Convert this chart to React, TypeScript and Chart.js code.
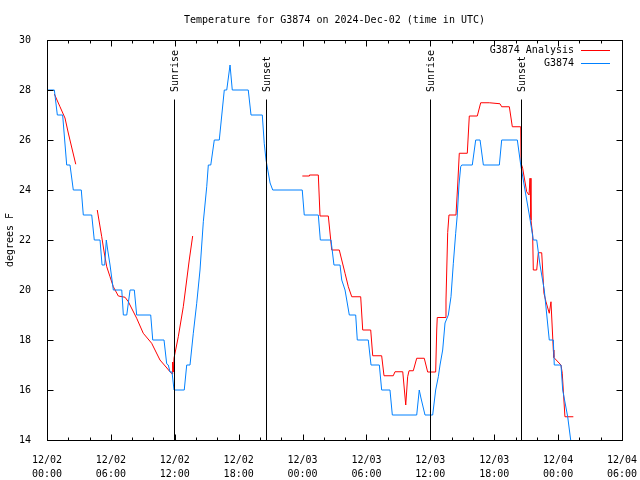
import React, { useEffect, useRef } from "react";
import { Chart, registerables } from "chart.js";

Chart.register(...registerables);

const FONT = "'DejaVu Sans Mono', 'Liberation Mono', monospace";

const chartTitle = "Temperature for G3874 on 2024-Dec-02 (time in UTC)";
const yAxisTitle = "degrees F";

// x ticks: hours since 12/02 00:00 UTC
const tickDates = ["12/02", "12/02", "12/02", "12/02", "12/03", "12/03", "12/03", "12/03", "12/04", "12/04"];
const tickTimes = ["00:00", "06:00", "12:00", "18:00", "00:00", "06:00", "12:00", "18:00", "00:00", "06:00"];

const eventHours = [11.93, 20.57, 35.97, 44.52];
const eventLabels = ["Sunrise", "Sunset", "Sunrise", "Sunset"];

const analysisLabel = "G3874 Analysis";
const stationLabel = "G3874";

const analysisHours = [
  0.69, 1.22, 1.69, 2.0, 2.38, 2.7, 3.5,
  4.72, 5.14, 5.38, 5.61, 5.92, 6.23, 6.7, 7.33, 7.64, 8.42, 9.04, 9.83, 10.61, 11.18, 11.55, 11.77, 11.8, 11.86,
  11.93, 12.33, 12.8, 13.12, 13.36, 13.68, 18,
  23.98, 24.63, 24.65, 25.48, 25.64, 26.42, 26.74, 27.45, 27.68, 27.99, 28.3, 28.62, 29.46, 29.65, 30.4, 30.59,
  31.43, 31.65, 32.52, 32.68, 33.41, 33.69, 33.87, 34.0, 34.4, 34.72, 35.43, 35.75, 36.5, 36.6, 36.65, 37.38,
  37.47, 37.63, 37.75, 38.41, 38.57, 38.72, 39.47, 39.66, 40.41, 40.73, 41.54, 42.54, 42.7, 43.42, 43.7, 44.49,
  44.52, 44.67, 45.05, 45.27, 45.36, 45.45, 45.61, 45.67, 45.99, 46.14, 46.46, 46.55, 46.67, 46.86, 47.17, 47.33,
  47.55, 47.6, 48.27, 48.39, 48.64, 49.43,
];
const analysisTemps = [
  27.84, 27.33, 26.88, 26.28, 25.6, 25.03, null,
  23.2, 22.13, 21.48, 20.93, 20.53, 20.13, 19.76, 19.71, 19.53, 18.87, 18.27, 17.87, 17.2, 16.92, 16.73, 16.64, 17.12, 16.72,
  17.28, 18.13, 19.33, 20.4, 21.2, 22.16, null,
  24.56, 24.56, 24.6, 24.6, 22.96, 22.96, 21.6, 21.6, 21.2, 20.67, 20.13, 19.73, 19.73, 18.4, 18.4, 17.37,
  17.37, 16.57, 16.57, 16.73, 16.73, 15.4, 16.53, 16.77, 16.77, 17.27, 17.27, 16.72, 16.72, 18.4, 18.9, 18.9,
  19.6, 22.3, 23.0, 23.0, 24.2, 25.47, 25.47, 26.96, 26.96, 27.49, 27.49, 27.45, 27.33, 27.33, 26.53, 26.53,
  25.07, 24.87, 23.93, 23.8, 24.47, 22.8, 22.2, 20.8, 20.8, 21.49, 21.49, 20.8, 19.87, 19.53, 19.07, 19.53,
  17.6, 17.3, 17.0, 16.67, 14.93, 14.93,
];

const stationHours = [
  0, 0.69, 0.97, 1.47, 1.85, 2.16, 2.47, 3.22, 3.41, 4.2, 4.44, 4.98, 5.17, 5.42, 5.57, 5.7, 5.92, 6.23, 7.02, 7.17,
  7.49, 7.8, 8.2, 8.42, 9.74, 9.93, 10.99, 11.24, 11.39, 11.55, 11.74, 11.93, 12.89, 13.12, 13.43, 13.74, 14.06,
  14.37, 14.68, 15.0, 15.15, 15.38, 15.71, 16.18, 16.65, 16.88, 17.19, 17.4, 18.9, 19.16, 20.22, 20.4, 20.57, 20.95,
  21.2, 23.97, 24.16, 25.48, 25.67, 26.67, 26.95, 27.52, 27.68, 27.99, 28.39, 28.99, 29.14, 30.17, 30.43, 31.21,
  31.43, 32.21, 32.43, 34.72, 34.96, 35.12, 35.5, 36.22, 36.5, 36.75, 36.91, 37.16, 37.38, 37.69, 37.94, 38.16,
  38.38, 38.53, 38.69, 38.85, 38.95, 39.94, 40.26, 40.67, 40.98, 42.48, 42.7, 44.17, 44.49, 44.89, 45.36, 45.67,
  45.99, 46.3, 46.7, 47.17, 47.55, 47.64, 48.27, 48.43, 48.9, 49.18,
];
const stationTemps = [
  28, 28, 27, 27, 25, 25, 24, 24, 23, 23, 22, 22, 21, 21, 22, 21.6, 21, 20, 20, 19,
  19, 20, 20, 19, 19, 18, 18, 17.05, 17.0, 16.72, 16.72, 16, 16, 17, 17, 18.27, 19.47,
  20.8, 22.73, 24.13, 25, 25, 26, 26, 28, 28, 29, 28, 28, 27, 27, 25.87, 25.2, 24.28,
  24, 24, 23, 23, 22, 22, 21, 21, 20.4, 20, 19, 19, 18, 18, 17, 17,
  16, 16, 15, 15, 16, 15.68, 15, 15, 16, 16.53, 17, 17.6, 18.68, 19, 19.73, 21.07,
  22.27, 23, 24.2, 24.93, 25, 25, 26, 26, 25, 25, 26, 26, 25, 24, 22.84, 22,
  22, 21, 20, 18, 18, 17, 17, 16, 14.93, 14,
];

const RED = "#ff0000";
const BLUE = "#0080ff";

const overlayPlugin = {
  id: "gnuplotOverlay",
  afterDatasetsDraw(chart: any) {
    const { ctx, chartArea: a, scales } = chart;
    const xs = scales.x;
    const ys = scales.y;
    const L = Math.round(a.left) + 0.5;
    const R = Math.round(a.right) + 0.5;
    const T = Math.round(a.top) + 0.5;
    const B = Math.round(a.bottom) + 0.5;
    ctx.save();
    ctx.strokeStyle = "#000";
    ctx.fillStyle = "#000";
    ctx.lineWidth = 1;
    ctx.font = `10px ${FONT}`;

    // sunrise / sunset markers
    eventHours.forEach((h, i) => {
      const px = Math.round(xs.getPixelForValue(h)) + 0.5;
      ctx.beginPath();
      ctx.moveTo(px, T + 59);
      ctx.lineTo(px, B);
      ctx.stroke();
      ctx.save();
      ctx.translate(px + 1, a.top + 52);
      ctx.rotate(-Math.PI / 2);
      ctx.textAlign = "left";
      ctx.textBaseline = "middle";
      ctx.fillText(eventLabels[i], 0, 0);
      ctx.restore();
    });

    // frame
    ctx.strokeRect(L, T, R - L, B - T);

    // x ticks (major every 6h, minor every 2h), inward, mirrored
    for (let v = xs.min; v <= xs.max; v += 2) {
      const px = Math.round(xs.getPixelForValue(v)) + 0.5;
      const len = v % 6 === 0 ? 6 : 3;
      ctx.beginPath();
      ctx.moveTo(px, B);
      ctx.lineTo(px, B - len);
      ctx.moveTo(px, T);
      ctx.lineTo(px, T + len);
      ctx.stroke();
    }
    // y ticks
    for (let v = ys.min; v <= ys.max; v += 2) {
      const py = Math.round(ys.getPixelForValue(v)) + 0.5;
      ctx.beginPath();
      ctx.moveTo(L, py);
      ctx.lineTo(L + 6, py);
      ctx.moveTo(R, py);
      ctx.lineTo(R - 6, py);
      ctx.stroke();
    }

    // legend (inside top-right)
    const items = [
      { label: analysisLabel, color: RED },
      { label: stationLabel, color: BLUE },
    ];
    items.forEach((it, i) => {
      const y = Math.round(a.top + 10 + i * 13);
      ctx.fillStyle = "#000";
      ctx.textAlign = "right";
      ctx.textBaseline = "middle";
      ctx.fillText(it.label, a.right - 48, y);
      ctx.strokeStyle = it.color;
      ctx.beginPath();
      ctx.moveTo(a.right - 41, y + 0.5);
      ctx.lineTo(a.right - 12, y + 0.5);
      ctx.stroke();
    });
    ctx.restore();
  },
};

export default function App() {
  const canvasRef = useRef<HTMLCanvasElement | null>(null);

  useEffect(() => {
    const canvas = canvasRef.current;
    if (!canvas) return;
    Chart.defaults.font.family = FONT;
    Chart.defaults.font.size = 10;
    Chart.defaults.color = "#000";

    const analysisData = analysisHours.map((h, i) => ({ x: h, y: analysisTemps[i] }));
    const stationData = stationHours.map((h, i) => ({ x: h, y: stationTemps[i] }));

    const chart = new Chart(canvas, {
      type: "line",
      data: {
        datasets: [
          {
            label: analysisLabel,
            data: analysisData as any,
            borderColor: RED,
            backgroundColor: RED,
            borderWidth: 1,
            pointRadius: 0,
            tension: 0,
            spanGaps: false,
            order: 1,
          },
          {
            label: stationLabel,
            data: stationData as any,
            borderColor: BLUE,
            backgroundColor: BLUE,
            borderWidth: 1,
            pointRadius: 0,
            tension: 0,
            spanGaps: false,
            order: 0,
          },
        ],
      },
      options: {
        animation: false,
        responsive: false,
        maintainAspectRatio: false,
        devicePixelRatio: 1,
        layout: { padding: { left: 0, right: 18, top: 0, bottom: 0 } },
        plugins: {
          legend: { display: false },
          tooltip: { enabled: false },
          title: {
            display: true,
            text: chartTitle,
            fullSize: false,
            color: "#000",
            font: { family: FONT, size: 10, weight: "normal", lineHeight: 1.2 },
            padding: { top: 14, bottom: 14 },
          },
        },
        scales: {
          x: {
            type: "linear",
            min: 0,
            max: 54,
            grid: { display: false },
            border: { display: false },
            ticks: {
              stepSize: 6,
              autoSkip: false,
              maxRotation: 0,
              minRotation: 0,
              padding: 5,
              color: "#000",
              font: { family: FONT, size: 10, lineHeight: 1.4 },
              callback: (value: any) => {
                const i = Math.round(Number(value) / 6);
                return [tickDates[i], tickTimes[i]];
              },
            },
            afterFit: (scale: any) => {
              scale.height = 40;
              scale.paddingLeft = 0;
              scale.paddingRight = 0;
            },
          },
          y: {
            type: "linear",
            min: 14,
            max: 30,
            grid: { display: false },
            border: { display: false },
            ticks: {
              stepSize: 2,
              padding: 8,
              color: "#000",
              font: { family: FONT, size: 10 },
            },
            title: {
              display: true,
              text: yAxisTitle,
              color: "#000",
              font: { family: FONT, size: 10, lineHeight: 1.2 },
              padding: { top: 4, bottom: 0 },
            },
            afterFit: (scale: any) => {
              scale.width = 47;
            },
          },
        },
      },
      plugins: [overlayPlugin],
    });

    return () => chart.destroy();
  }, []);

  return (
    <div style={{ position: "absolute", left: 0, top: 0, width: 640, height: 480, background: "#fff" }}>
      <canvas ref={canvasRef} width={640} height={480} style={{ display: "block" }} />
    </div>
  );
}
